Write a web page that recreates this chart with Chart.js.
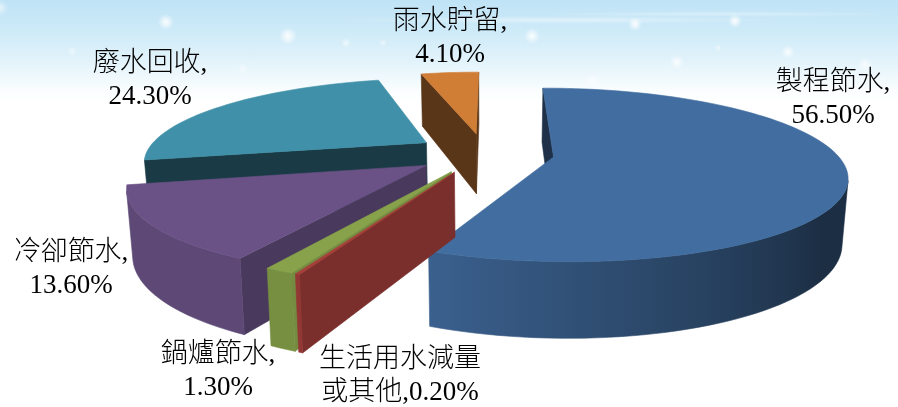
<!DOCTYPE html>
<html>
<head>
<meta charset="utf-8">
<title>節水比例</title>
<script src="https://cdn.jsdelivr.net/npm/chart.js@4/dist/chart.umd.min.js"></script>
<style>
  html, body { margin: 0; padding: 0; background: #fff; }
  #wrap {
    position: relative; width: 898px; height: 407px; overflow: hidden;
    background:
      radial-gradient(circle 8px at 166px 22px, rgba(255,255,255,.95), rgba(255,255,255,0)),
      radial-gradient(circle 9px at 288px 36px, rgba(255,255,255,.95), rgba(255,255,255,0)),
      radial-gradient(circle 5px at 72px 51px, rgba(255,255,255,.5), rgba(255,255,255,0)),
      radial-gradient(circle 5px at 346px 43px, rgba(255,255,255,.6), rgba(255,255,255,0)),
      radial-gradient(circle 4px at 383px 43px, rgba(255,255,255,.5), rgba(255,255,255,0)),
      radial-gradient(circle 5px at 243px 69px, rgba(255,255,255,.5), rgba(255,255,255,0)),
      radial-gradient(circle 8px at 532px 36px, rgba(255,255,255,.9), rgba(255,255,255,0)),
      radial-gradient(circle 7px at 635px 24px, rgba(255,255,255,.95), rgba(255,255,255,0)),
      radial-gradient(circle 7px at 735px 21px, rgba(255,255,255,.95), rgba(255,255,255,0)),
      radial-gradient(circle 4px at 718px 48px, rgba(255,255,255,.5), rgba(255,255,255,0)),
      radial-gradient(circle 7px at 788px 52px, rgba(255,255,255,.8), rgba(255,255,255,0)),
      radial-gradient(circle 7px at 677px 62px, rgba(255,255,255,.8), rgba(255,255,255,0)),
      radial-gradient(circle 8px at 865px 65px, rgba(255,255,255,.7), rgba(255,255,255,0)),
      radial-gradient(circle 7px at 593px 80px, rgba(255,255,255,.6), rgba(255,255,255,0)),
      radial-gradient(circle 8px at 0px 8px, rgba(255,255,255,.6), rgba(255,255,255,0)),
      radial-gradient(ellipse 220px 4px at 560px 20px, rgba(255,255,255,.45), rgba(255,255,255,0)),
      radial-gradient(ellipse 180px 3px at 720px 14px, rgba(255,255,255,.35), rgba(255,255,255,0)),
      linear-gradient(to bottom, #bfe3f6 0px, #cdeaf8 30px, #e3f3fb 62px, #fbfeff 92px, #ffffff 102px);
  }
  canvas { display: block; }
</style>
</head>
<body>
<div id="wrap"><canvas id="myChart" width="898" height="407"></canvas></div>
<script>
const categories = ['製程節水', '生活用水減量\n或其他', '鍋爐節水', '冷卻節水', '廢水回收', '雨水貯留'];
const percents = [56.5, 0.2, 1.3, 13.6, 24.3, 4.1];

const topColors = ['#426da0', '#a63f3b', '#87a24a', '#6a5286', '#3f90a8', '#d07d36'];
// how dark the cut faces of each wedge are against its top
const cutShade = [0.45, 0.74, 0.86, 0.69, 0.41, 0.43];

// centre x and first line y of each label
const labelSpots = [[833, 83], [400, 360], [218, 355], [71, 253], [150, 64], [450, 22]];
const lineGap = 33;

// pie lies on a tilted plane, this is the camera for it
const cam = {ox: 554, oy: 157, sx: 285, sy: 83, k: 0.207, m: 0.011, q: 3.5, cu: 0.247, cv: 0.04};

function project(u, v) {
  const U = u - cam.cu, V = v - cam.cv;
  const w = 1 - cam.k * V - cam.m * U;
  return {x: cam.ox + cam.sx * U / w, y: cam.oy + (cam.sy * V + cam.q * U) / w};
}

// same point on the underside of the wedge
function drop(p) {
  return {x: 490 + (p.x - 490) * 0.983, y: 1.13 * p.y + 42.6};
}

function shade(hex, f) {
  const n = parseInt(hex.slice(1), 16);
  const r = Math.round((n >> 16 & 255) * f), g = Math.round((n >> 8 & 255) * f), b = Math.round((n & 255) * f);
  return 'rgb(' + r + ',' + g + ',' + b + ')';
}

// rim gets lighter going round from the right side to the lower left
function rimShade(t) {
  const clock = ((t * 180 / Math.PI + 90) % 360 + 360) % 360;
  const f = Math.min(1, Math.max(0, (clock - 125) / 75));
  return 0.42 + 0.46 * f;
}

function fillPoly(ctx, pts, color) {
  ctx.beginPath();
  pts.forEach((p, i) => i ? ctx.lineTo(p.x, p.y) : ctx.moveTo(p.x, p.y));
  ctx.closePath();
  ctx.fillStyle = color;
  ctx.strokeStyle = color;
  ctx.lineWidth = 0.6;
  ctx.fill();
  ctx.stroke();
}

// faces turned away from the viewer come out false here
function facesViewer(p, q) {
  const q2 = drop(q), p2 = drop(p);
  const area = (p.x * q.y - q.x * p.y) + (q.x * q2.y - q2.x * q.y) + (q2.x * p2.y - p2.x * q2.y) + (p2.x * p.y - p.x * p2.y);
  return area < 0;
}

function cutWall(ctx, p, q, color) {
  if (facesViewer(p, q)) fillPoly(ctx, [p, q, drop(q), drop(p)], color);
}

// one run of the curved side, shaded left to right
function rimWall(ctx, run, color) {
  const xs = run.map(r => r.p.x);
  const x0 = Math.min(...xs), x1 = Math.max(...xs);
  const grad = ctx.createLinearGradient(x0, 0, x1, 0);
  run.forEach(r => grad.addColorStop(x1 > x0 ? (r.p.x - x0) / (x1 - x0) : 0, shade(color, rimShade(r.t))));
  const pts = run.map(r => r.p).concat(run.map(r => drop(r.p)).reverse());
  fillPoly(ctx, pts, grad);
}

function drawWedge(ctx, arc, color, cut) {
  const R = arc.outerRadius, e = arc.options.offset / R;
  const mid = (arc.startAngle + arc.endAngle) / 2;
  const au = e * Math.cos(mid), av = e * Math.sin(mid);
  const apex = project(au, av);

  const steps = Math.max(2, Math.ceil((arc.endAngle - arc.startAngle) / 0.035));
  const rim = [];
  for (let i = 0; i <= steps; i++) {
    const t = arc.startAngle + (arc.endAngle - arc.startAngle) * i / steps;
    rim.push({t: t, p: project(au + Math.cos(t), av + Math.sin(t))});
  }

  cutWall(ctx, apex, rim[0].p, shade(color, cut));
  cutWall(ctx, rim[steps].p, apex, shade(color, cut));

  let run = [];
  for (let i = 0; i < steps; i++) {
    if (facesViewer(rim[i].p, rim[i + 1].p)) {
      if (!run.length) run.push(rim[i]);
      run.push(rim[i + 1]);
    } else if (run.length) {
      rimWall(ctx, run, color);
      run = [];
    }
  }
  if (run.length) rimWall(ctx, run, color);

  fillPoly(ctx, [apex].concat(rim.map(r => r.p)), color);
}

const pie3d = {
  id: 'pie3d',
  beforeDatasetsDraw(chart) {
    const ctx = chart.ctx;
    const arcs = chart.getDatasetMeta(0).data.map((arc, i) => ({arc: arc, i: i}));
    // far wedges first
    arcs.sort((a, b) => Math.sin((a.arc.startAngle + a.arc.endAngle) / 2) - Math.sin((b.arc.startAngle + b.arc.endAngle) / 2));
    ctx.save();
    arcs.forEach(a => drawWedge(ctx, a.arc, topColors[a.i], cutShade[a.i]));
    ctx.restore();
    return false;
  },
  afterDraw(chart) {
    const ctx = chart.ctx;
    ctx.save();
    ctx.font = '300 27px "Liberation Serif", "Noto Sans CJK TC"';
    ctx.fillStyle = '#000';
    ctx.textAlign = 'center';
    ctx.textBaseline = 'middle';
    categories.forEach((name, i) => {
      const pct = percents[i].toFixed(2) + '%';
      const text = name.includes('\n') ? name + ',' + pct : name + ',\n' + pct;
      text.split('\n').forEach((line, j) => {
        ctx.fillText(line, labelSpots[i][0], labelSpots[i][1] + j * lineGap);
      });
    });
    ctx.restore();
  }
};

new Chart(document.getElementById('myChart'), {
  type: 'pie',
  data: {
    labels: categories,
    datasets: [{
      data: percents,
      backgroundColor: topColors,
      borderWidth: 0,
      offset: 45
    }]
  },
  options: {
    responsive: false,
    animation: false,
    rotation: -2.6,
    plugins: {
      legend: { display: false },
      tooltip: { enabled: false }
    }
  },
  plugins: [pie3d]
});
</script>
</body>
</html>
